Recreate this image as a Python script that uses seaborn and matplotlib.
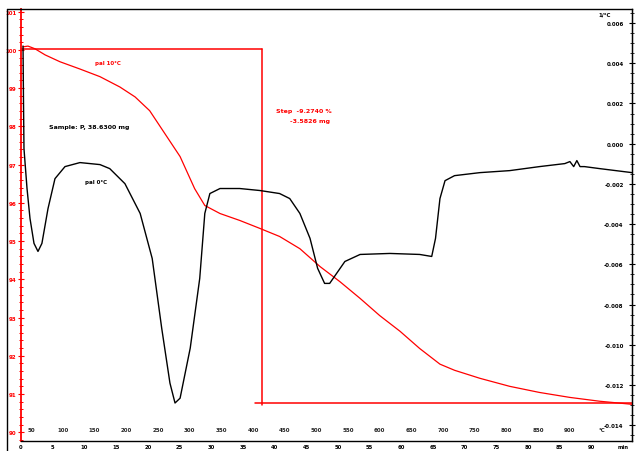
import numpy as np
import pandas as pd
import matplotlib
matplotlib.use("Agg")
import matplotlib.pyplot as plt
import seaborn as sns
from matplotlib.ticker import MultipleLocator, FixedLocator, FixedFormatter
from matplotlib.lines import Line2D

# ---------------- data ----------------
# TGA curve (time in min, weight in %)
tga_time = [0.32, 1.1, 2.2, 3.8, 6.15, 9.3, 12.46, 15.6, 18.0, 20.3, 22.7, 25.1,
            27.4, 29.0, 31.4, 34.5, 37.7, 40.8, 44.0, 47.2, 50.3, 53.5, 56.6,
            59.8, 62.9, 66.1, 68.4, 72.4, 77.1, 81.8, 86.6, 91.3, 96.4]
tga_pct = [100.08, 100.1, 100.03, 99.87, 99.69, 99.5, 99.3, 99.03, 98.77, 98.41,
           97.81, 97.21, 96.37, 95.93, 95.72, 95.54, 95.33, 95.12, 94.80, 94.33,
           93.94, 93.50, 93.05, 92.64, 92.19, 91.78, 91.62, 91.41, 91.20, 91.04,
           90.91, 90.81, 90.73]

# DTG curve (time in min, 1/°C)
dtg_time = [0.32, 0.39, 0.47, 0.95, 1.42, 2.05, 2.68, 3.3, 4.26, 5.36, 6.94, 9.3,
            12.46, 14.0, 16.4, 18.8, 20.7, 22.2, 23.5, 24.3, 25.1, 26.7, 28.2,
            29.0, 29.8, 31.4, 34.5, 37.7, 40.8, 42.4, 44.0, 45.6, 46.8, 47.9,
            48.7, 49.8, 51.1, 53.5, 58.2, 62.9, 64.8, 65.4, 66.1, 66.9, 68.4,
            72.4, 77.1, 81.8, 85.8, 86.6, 87.2, 87.7, 88.2, 88.9, 91.3, 96.4]
dtg_val = [0.00486, 0.00223, -0.00025, -0.00223, -0.00372, -0.00496, -0.00536,
           -0.00496, -0.00323, -0.00174, -0.00114, -0.00094, -0.00104, -0.00124,
           -0.00199, -0.00347, -0.00571, -0.00918, -0.01191, -0.0129, -0.01266,
           -0.01017, -0.0067, -0.00347, -0.00248, -0.00223, -0.00223, -0.00233,
           -0.00248, -0.00273, -0.00347, -0.00471, -0.0062, -0.00695, -0.00695,
           -0.00645, -0.00586, -0.00551, -0.00546, -0.00551, -0.00561, -0.00471,
           -0.00273, -0.00184, -0.00159, -0.00144, -0.00134, -0.00114, -0.00099,
           -0.00089, -0.00114, -0.00084, -0.00114, -0.00114, -0.00124, -0.00144]

# step evaluation
step_left_t = 38.0
step_right_start_t = 36.9
step_top = 100.03
step_bottom = 90.756

# tick labels
time_ticks = list(range(0, 100, 5))
time_labels = [str(v) for v in range(0, 95, 5)] + ["min"]
temp_ticks = list(range(50, 1000, 50))
temp_labels = [str(v) for v in range(50, 950, 50)] + ["°C"]
pct_ticks = list(range(90, 102))
dtg_ticks = [-0.014, -0.012, -0.010, -0.008, -0.006, -0.004, -0.002, 0.000, 0.002, 0.004, 0.006]

T0 = 34.0      # start temperature
RATE = 10.0    # K/min

# ---------------- plot ----------------
sns.set_style("white")
plt.rcParams["font.family"] = ["DejaVu Sans"]

fig = plt.figure(figsize=(6.36, 4.52), dpi=100)
BOT = 442
ax = fig.add_axes([21 / 636, (452 - BOT) / 452, (632 - 21) / 636, (BOT - 10) / 452])
ax2 = ax.twinx()

df_tga = pd.DataFrame({"t": tga_time, "w": tga_pct})
df_dtg = pd.DataFrame({"t": dtg_time, "d": dtg_val})

sns.lineplot(data=df_tga, x="t", y="w", ax=ax, color="#ff0000", lw=0.9,
             sort=False, estimator=None, zorder=3)
sns.lineplot(data=df_dtg, x="t", y="d", ax=ax2, color="black", lw=1.0,
             sort=False, estimator=None, zorder=3)

ax.set_xlim(0, 96.4)
ax.set_ylim(89.77, 101.07)
ax2.set_ylim(-0.01479, 0.0067)

# step lines
ax.plot([0, step_left_t], [step_top, step_top], color="#ff0000", lw=1.1)
ax.plot([step_left_t, step_left_t], [step_top, step_bottom - 0.05], color="#ff0000", lw=1.1)
ax.plot([step_right_start_t, 96.4], [step_bottom, step_bottom], color="#ff0000", lw=1.1)

# annotations
ax.text(40.2, 98.41, "Step  -9.2740 %", color="#ff0000", fontsize=4.5,
        fontweight="bold", va="center", ha="left")
ax.text(42.4, 98.15, "-3.5826 mg", color="#ff0000", fontsize=4.5,
        fontweight="bold", va="center", ha="left")
ax.text(4.4, 97.99, "Sample: P, 38.6300 mg", color="black", fontsize=4.5,
        fontweight="bold", va="center", ha="left")
ax.text(11.7, 99.66, "pal 10°C", color="#ff0000", fontsize=4,
        fontweight="bold", va="center", ha="left")
ax2.text(10.1, -0.00189, "pal 0°C", color="black", fontsize=4,
         fontweight="bold", va="center", ha="left")
ax2.text(0.965, 0.988, "1/°C", transform=ax.transAxes, color="black",
         fontsize=4, fontweight="bold", va="center", ha="right")

# spines
for s in ["top", "right", "bottom"]:
    ax.spines[s].set_color("black")
    ax.spines[s].set_linewidth(1.0)
ax.spines["left"].set_color("#ff0000")
ax.spines["left"].set_linewidth(1.3)
for s in ax2.spines.values():
    s.set_visible(False)
ax2.spines["right"].set_visible(True)
ax2.spines["right"].set_color("black")

# time axis (bottom)
ax.xaxis.set_major_locator(FixedLocator(time_ticks))
ax.xaxis.set_major_formatter(FixedFormatter(time_labels))
ax.xaxis.set_minor_locator(MultipleLocator(1))
ax.tick_params(axis="x", which="major", direction="inout", length=4, width=0.9,
               labelsize=3.8, pad=0.3, colors="black")
ax.tick_params(axis="x", which="minor", direction="inout", length=3, width=0.8)
for lab in ax.get_xticklabels():
    lab.set_fontweight("bold")

# temperature labels (inside, above the time axis)
sec = ax.secondary_xaxis("bottom", functions=(lambda t: T0 + RATE * t,
                                              lambda T: (T - T0) / RATE))
sec.set_xticks(temp_ticks)
sec.set_xticklabels(temp_labels)
sec.tick_params(length=0, labelsize=4, pad=-10)
for lab in sec.get_xticklabels():
    lab.set_fontweight("bold")
sec.spines["bottom"].set_visible(False)

# left % axis
ax.yaxis.set_major_locator(FixedLocator(pct_ticks))
ax.yaxis.set_minor_locator(MultipleLocator(0.2))
ax.tick_params(axis="y", which="major", direction="inout", length=4, width=0.8,
               colors="#ff0000", labelsize=4, pad=1)
ax.tick_params(axis="y", which="minor", direction="inout", length=2.5, width=0.7,
               colors="#ff0000")
for lab in ax.get_yticklabels():
    lab.set_fontweight("bold")
ax.set_xlabel("")
ax.set_ylabel("")

# right DTG axis (labels inside)
ax2.yaxis.set_major_locator(FixedLocator(dtg_ticks))
ax2.yaxis.set_minor_locator(MultipleLocator(0.0005))
ax2.set_yticklabels([f"{v:.3f}" for v in dtg_ticks])
ax2.tick_params(axis="y", which="major", direction="inout", length=4, width=0.8,
                colors="black", labelsize=4, pad=-8)
ax2.tick_params(axis="y", which="minor", direction="inout", length=2.5, width=0.7)
for lab in ax2.get_yticklabels():
    lab.set_fontweight("bold")
    lab.set_horizontalalignment("right")
ax2.set_ylabel("")

# outer frame line
fig.add_artist(Line2D([7 / 636, 21 / 636], [(452 - 10) / 452, (452 - 10) / 452],
                      color="black", lw=1.0))
fig.add_artist(Line2D([7 / 636, 7 / 636], [0, (452 - 10) / 452],
                      color="black", lw=1.0))

fig.savefig("out.png", dpi=100)
